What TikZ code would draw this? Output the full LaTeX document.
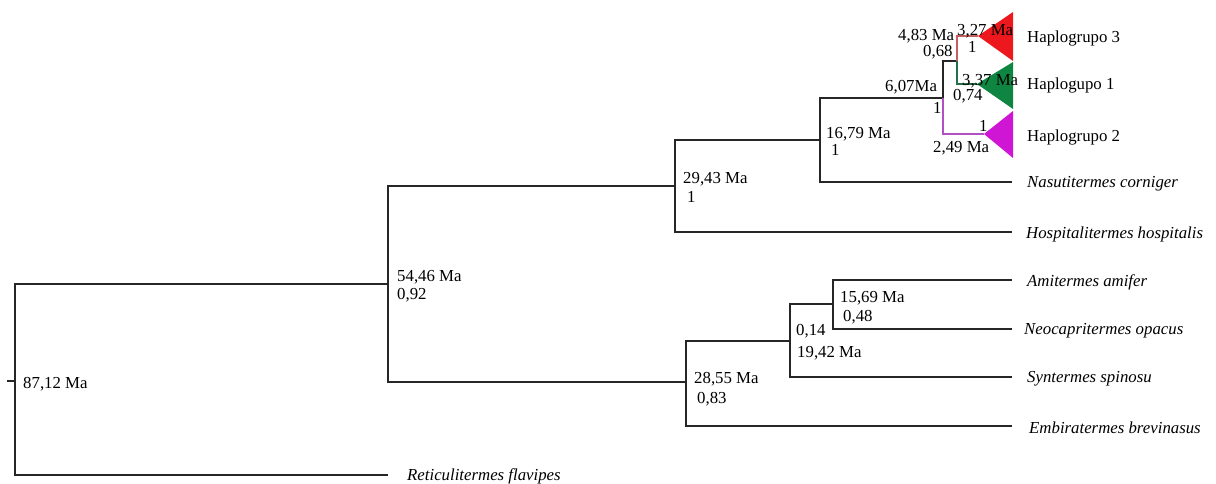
\documentclass[tikz,border=0pt]{standalone}
\usepackage{fontspec}
\setmainfont{Liberation Serif}
\usetikzlibrary{positioning}
\definecolor{hapred}{RGB}{236,24,30}
\definecolor{hapgreen}{RGB}{14,134,66}
\definecolor{hapmag}{RGB}{206,22,212}
\definecolor{brred}{RGB}{196,96,96}
\definecolor{brgreen}{RGB}{34,112,72}
\definecolor{brmag}{RGB}{176,80,196}

\begin{document}
\begin{tikzpicture}[x=1pt, y=-1pt, font=\fontsize{16.8}{19}\selectfont, node distance=0pt]
    \tikzset{branch/.style={line width=1.9pt, black!85},
      cbranch/.style={line width=1.5pt},
      lab/.style={anchor=base west, inner sep=0pt},
      tip/.style={inner sep=0pt, yshift=-2pt, font=\fontsize{16.8}{19}\selectfont\itshape}}
    \useasboundingbox (0,0) rectangle (1216,483);
    \coordinate (stub) at (7,381);
    \coordinate (root) at (15,381);
    \coordinate (n5446) at (388,284);
    \coordinate (n2943) at (675,186);
    \coordinate (n2855) at (686,382);
    \coordinate (n1679) at (820,140);
    \coordinate (n0607) at (943,98);
    \coordinate (n0483) at (957,61);
    \coordinate (n1942) at (790,341);
    \coordinate (n1569) at (833,304);
    \coordinate (h3) at (978,36);
    \coordinate (h1) at (977,84);
    \coordinate (h2) at (984,134);
    \coordinate (eRet) at (388,475);
    \coordinate (eHos) at (1012,232);
    \coordinate (eNas) at (1012,182);
    \coordinate (eAmi) at (1012,280);
    \coordinate (eNeo) at (1012,329);
    \coordinate (eSyn) at (1012,377);
    \coordinate (eEmb) at (1012,426);
    \fill[hapred] (h3) -- ++(35,-24) -- ++(0,49) -- cycle;
    \fill[hapgreen] (h1) -- ++(36,-22) -- ++(0,47) -- cycle;
    \fill[hapmag] (h2) -- ++(29,-23) -- ++(0,47) -- cycle;
    \draw[branch] (stub) -- (root);
    \draw[branch] (root) |- (n5446);
    \draw[branch] (root) |- (eRet);
    \draw[branch] (n5446) |- (n2943);
    \draw[branch] (n5446) |- (n2855);
    \draw[branch] (n2943) |- (n1679);
    \draw[branch] (n2943) |- (eHos);
    \draw[branch] (n1679) |- (n0607);
    \draw[branch] (n1679) |- (eNas);
    \draw[branch] (n0607) |- (n0483);
    \draw[cbranch, brmag] (n0607) |- (h2);
    \draw[cbranch, brred] (n0483) |- (h3);
    \draw[cbranch, brgreen] (n0483) |- (h1);
    \draw[branch] (n2855) |- (n1942);
    \draw[branch] (n2855) |- (eEmb);
    \draw[branch] (n1942) |- (n1569);
    \draw[branch] (n1942) |- (eSyn);
    \draw[branch] (n1569) |- (eAmi);
    \draw[branch] (n1569) |- (eNeo);
    \node[lab] (a8712) at (23,388) {87,12 Ma};
    \node[lab] (a5446) at (397,281) {54,46 Ma};
    \node[lab] (p5446) at (397,299) {0,92};
    \node[lab] (a2943) at (683,183) {29,43 Ma};
    \node[lab] (p2943) at (687,202) {1};
    \node[lab] (a1679) at (826,138) {16,79 Ma};
    \node[lab] (p1679) at (831,155) {1};
    \node[lab] (a0607) at (885,91) {6,07Ma};
    \node[lab] (p0607) at (933,113) {1};
    \node[lab] (a0483) at (898,40) {4,83 Ma};
    \node[lab] (p0483) at (923,56) {0,68};
    \node[lab] (a0327) at (957,35) {3,27 Ma};
    \node[lab] (p0327) at (968,52) {1};
    \node[lab] (a0337) at (962,85) {3,37 Ma};
    \node[lab] (p0337) at (953,100) {0,74};
    \node[lab] (p0249) at (979,131) {1};
    \node[lab] (a0249) at (933,152) {2,49 Ma};
    \node[lab] (a2855) at (694,383) {28,55 Ma};
    \node[lab] (p2855) at (697,403) {0,83};
    \node[lab] (p1942) at (796,335) {0,14};
    \node[lab] (a1942) at (797,357) {19,42 Ma};
    \node[lab] (a1569) at (840,302) {15,69 Ma};
    \node[lab] (p1569) at (843,321) {0,48};
    \node[lab] (hap3) at (1027,42) {Haplogrupo 3};
    \node[lab] (hap1) at (1027,89) {Haplogupo 1};
    \node[lab] (hap2) at (1027,141) {Haplogrupo 2};
    \node[tip, right=15pt of eNas] (nas) {Nasutitermes corniger};
    \node[tip, right=14pt of eHos] (hos) {Hospitalitermes hospitalis};
    \node[tip, right=15pt of eAmi] (ami) {Amitermes amifer};
    \node[tip, right=12pt of eNeo] (neo) {Neocapritermes opacus};
    \node[tip, right=15pt of eSyn] (syn) {Syntermes spinosu};
    \node[tip, right=17pt of eEmb] (emb) {Embiratermes brevinasus};
    \node[tip, right=19pt of eRet, yshift=1pt] (ret) {Reticulitermes flavipes};
  \end{tikzpicture}
\end{document}
